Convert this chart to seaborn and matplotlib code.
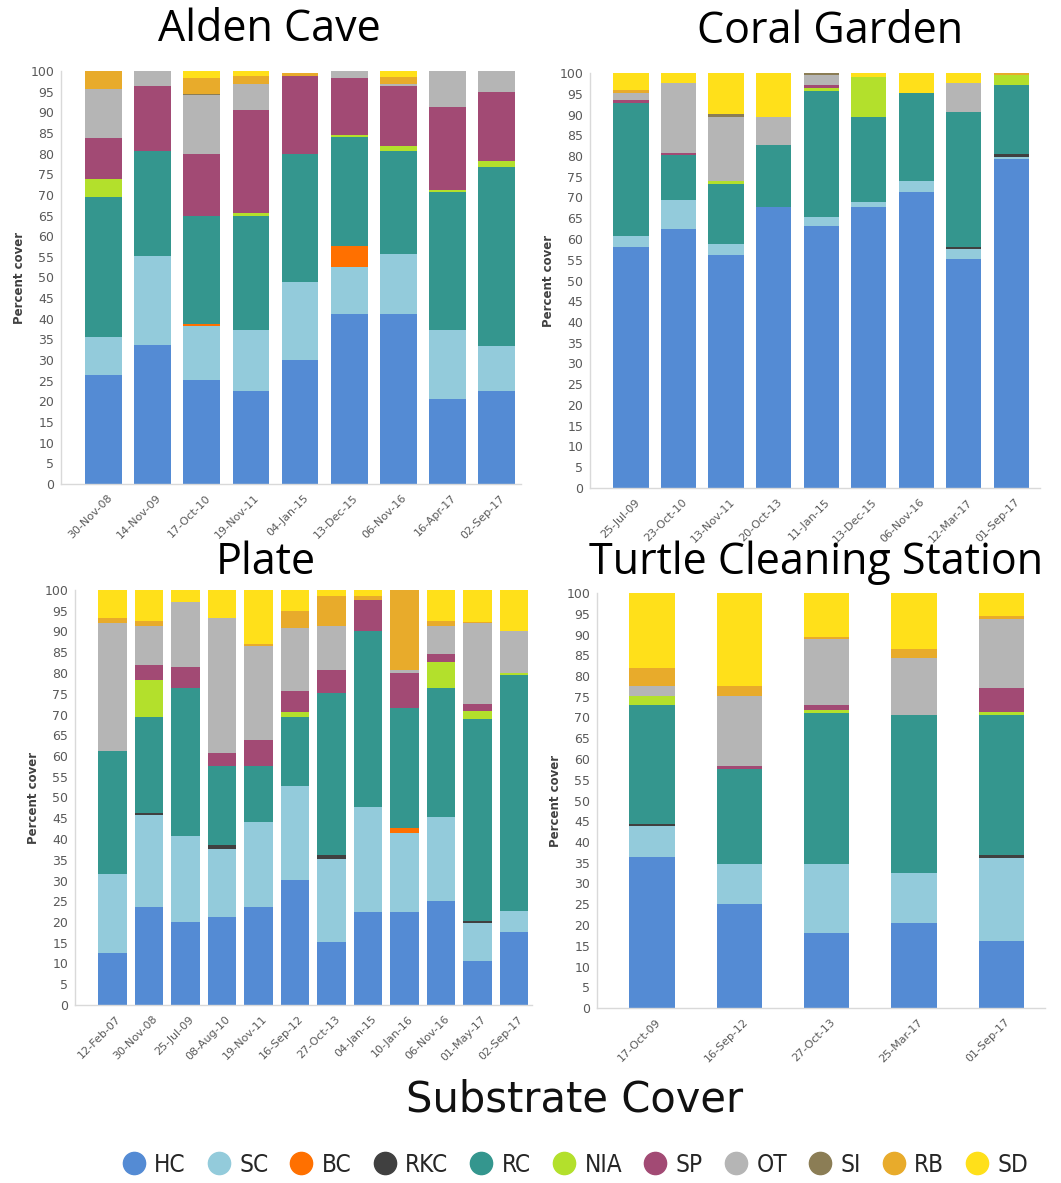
import matplotlib
matplotlib.use("Agg")
import matplotlib.pyplot as plt
import matplotlib.transforms as mtransforms
from matplotlib.lines import Line2D
import numpy as np
import pandas as pd
import seaborn as sns

# Substrate categories (bottom to top of each stacked bar) and their colours
CATEGORIES = ["HC", "SC", "BC", "RKC", "RC", "NIA", "SP", "OT", "SI", "RB", "SD"]
COLORS = ["#548bd4", "#93cbdb", "#ff7000", "#404040", "#34968e", "#b3e02c",
          "#a24a74", "#b5b5b5", "#8b7d55", "#e8ab2b", "#ffe01a"]

# Percent cover per survey date, columns follow CATEGORIES
ALDEN_DATES = ["30-Nov-08", "14-Nov-09", "17-Oct-10", "19-Nov-11", "04-Jan-15",
               "13-Dec-15", "06-Nov-16", "16-Apr-17", "02-Sep-17"]
ALDEN_COVER = [
    [26.3, 9.4, 0.0, 0.0, 33.7, 4.4, 9.9, 11.9, 0.0, 4.4, 0.0],
    [33.7, 21.5, 0.0, 0.0, 25.5, 0.0, 15.7, 3.6, 0.0, 0.0, 0.0],
    [25.1, 13.1, 0.6, 0.0, 26.2, 0.0, 15.0, 14.1, 0.4, 3.7, 1.8],
    [22.5, 14.9, 0.0, 0.0, 27.6, 0.6, 25.0, 6.3, 0.0, 1.9, 1.2],
    [30.1, 18.9, 0.0, 0.0, 31.0, 0.0, 18.8, 0.0, 0.0, 0.6, 0.0],
    [41.2, 11.3, 5.1, 0.0, 26.3, 0.6, 13.7, 1.8, 0.0, 0.0, 0.0],
    [41.2, 14.5, 0.0, 0.0, 25.0, 1.2, 14.5, 0.4, 0.0, 1.8, 1.4],
    [20.5, 16.9, 0.0, 0.0, 33.2, 0.6, 20.1, 8.7, 0.0, 0.0, 0.0],
    [22.5, 10.8, 0.0, 0.0, 43.5, 1.5, 16.6, 5.1, 0.0, 0.0, 0.0],
]

CORAL_DATES = ["25-Jul-09", "23-Oct-10", "13-Nov-11", "20-Oct-13", "11-Jan-15",
               "13-Dec-15", "06-Nov-16", "12-Mar-17", "01-Sep-17"]
CORAL_COVER = [
    [58.1, 2.6, 0.0, 0.0, 32.0, 0.0, 0.7, 1.9, 0.0, 0.5, 4.2],
    [62.5, 7.0, 0.0, 0.0, 10.7, 0.0, 0.6, 16.8, 0.0, 0.0, 2.4],
    [56.2, 2.7, 0.0, 0.0, 14.3, 0.8, 0.0, 15.5, 0.7, 0.0, 9.8],
    [67.7, 0.0, 0.0, 0.0, 14.9, 0.0, 0.0, 6.9, 0.0, 0.0, 10.5],
    [63.1, 2.1, 0.0, 0.0, 30.5, 0.6, 0.8, 2.3, 0.6, 0.0, 0.0],
    [67.7, 1.3, 0.0, 0.0, 20.5, 9.5, 0.0, 0.0, 0.0, 0.0, 1.0],
    [71.4, 2.6, 0.0, 0.0, 21.2, 0.0, 0.0, 0.0, 0.0, 0.0, 4.8],
    [55.1, 2.4, 0.0, 0.6, 32.6, 0.0, 0.0, 6.9, 0.0, 0.0, 2.4],
    [79.2, 0.5, 0.0, 0.9, 16.5, 2.5, 0.0, 0.0, 0.0, 0.4, 0.0],
]

PLATE_DATES = ["12-Feb-07", "30-Nov-08", "25-Jul-09", "08-Aug-10", "19-Nov-11",
               "16-Sep-12", "27-Oct-13", "04-Jan-15", "10-Jan-16", "06-Nov-16",
               "01-May-17", "02-Sep-17"]
PLATE_COVER = [
    [12.6, 18.9, 0.0, 0.0, 29.8, 0.0, 0.0, 30.7, 0.0, 1.3, 6.7],
    [23.7, 22.1, 0.0, 0.5, 23.2, 8.8, 3.6, 9.5, 0.0, 1.1, 7.5],
    [20.1, 20.7, 0.0, 0.0, 35.5, 0.0, 5.1, 15.6, 0.0, 0.0, 3.0],
    [21.3, 16.4, 0.0, 0.9, 19.1, 0.0, 3.1, 32.4, 0.0, 0.0, 6.8],
    [23.7, 20.3, 0.0, 0.0, 13.7, 0.0, 6.1, 22.7, 0.0, 0.4, 13.1],
    [30.1, 22.7, 0.0, 0.0, 16.7, 1.2, 5.0, 15.1, 0.0, 4.2, 5.0],
    [15.1, 20.2, 0.0, 0.9, 38.9, 0.0, 5.6, 10.7, 0.0, 7.2, 1.4],
    [22.5, 25.1, 0.0, 0.0, 42.6, 0.0, 7.4, 0.0, 0.0, 1.0, 1.4],
    [22.5, 18.9, 1.2, 0.0, 28.9, 0.0, 8.6, 0.6, 0.0, 19.3, 0.0],
    [25.1, 20.1, 0.0, 0.0, 31.1, 6.3, 2.0, 6.8, 0.0, 1.2, 7.4],
    [10.7, 9.0, 0.0, 0.5, 48.6, 2.0, 1.7, 19.5, 0.0, 0.4, 7.6],
    [17.7, 5.0, 0.0, 0.0, 56.8, 0.6, 0.0, 10.0, 0.0, 0.0, 9.9],
]

TURTLE_DATES = ["17-Oct-09", "16-Sep-12", "27-Oct-13", "25-Mar-17", "01-Sep-17"]
TURTLE_COVER = [
    [36.3, 7.6, 0.0, 0.5, 28.7, 2.0, 0.0, 2.4, 0.0, 4.4, 18.1],
    [25.0, 9.6, 0.0, 0.0, 23.1, 0.0, 0.6, 16.8, 0.0, 2.4, 22.5],
    [18.0, 16.6, 0.0, 0.0, 36.5, 0.6, 1.4, 15.8, 0.0, 0.6, 10.5],
    [20.6, 12.0, 0.0, 0.0, 38.1, 0.0, 0.0, 13.7, 0.0, 2.0, 13.6],
    [16.2, 20.0, 0.0, 0.6, 33.9, 0.6, 5.7, 16.8, 0.0, 0.7, 5.5],
]

sns.set_style("white")
plt.rcParams["font.family"] = ["DejaVu Sans"]

TITLE_FONT = ["Open Sans", "Lato", "DejaVu Sans"]
TICK_COLOR = "#595959"
SPINE_COLOR = "#d9d9d9"

fig = plt.figure(figsize=(10.61, 11.83), dpi=100)
label_shift = mtransforms.ScaledTranslation(5 / 72, 0, fig.dpi_scale_trans)


def stacked_panel(rect, dates, cover, bar_width, xlim):
    ax = fig.add_axes(rect)
    df = pd.DataFrame(cover, columns=CATEGORIES)
    df.insert(0, "date", dates)
    running = df[CATEGORIES].cumsum(axis=1)
    # draw cumulative totals from the top layer down so each lower layer covers the rest
    for cat, col in reversed(list(zip(CATEGORIES, COLORS))):
        sns.barplot(x=df["date"], y=running[cat], order=dates, color=col,
                    saturation=1, width=bar_width, errorbar=None,
                    linewidth=0, ax=ax)
    ax.set_xlim(*xlim)
    ax.set_ylim(0, 100)
    ax.set_yticks(np.arange(0, 101, 5))
    ax.set_xlabel("")
    ax.set_ylabel("Percent cover", fontsize=8.5, fontweight="bold",
                  color="#404040", labelpad=3)
    for side in ("top", "right"):
        ax.spines[side].set_visible(False)
    for side in ("left", "bottom"):
        ax.spines[side].set_color(SPINE_COLOR)
        ax.spines[side].set_linewidth(1.0)
    ax.tick_params(axis="y", length=0, pad=5, labelsize=9, labelcolor=TICK_COLOR)
    ax.tick_params(axis="x", length=0, pad=9, labelsize=8, labelcolor=TICK_COLOR)
    for lab in ax.get_xticklabels():
        lab.set_rotation(45)
        lab.set_ha("right")
        lab.set_va("center")
        lab.set_rotation_mode("anchor")
        lab.set_transform(lab.get_transform() + label_shift)
    ax.grid(False)
    return ax


W, H = 1061.0, 1183.0


def rect(left, top, right, bottom):
    return [left / W, 1 - bottom / H, (right - left) / W, (bottom - top) / H]


stacked_panel(rect(61, 71, 521, 484), ALDEN_DATES, ALDEN_COVER, 0.75, (-0.87, 8.5))
stacked_panel(rect(590, 73, 1040, 488), CORAL_DATES, CORAL_COVER, 0.74, (-0.86, 8.6))
stacked_panel(rect(75, 590, 532, 1005), PLATE_DATES, PLATE_COVER, 0.78, (-1.03, 11.5))
stacked_panel(rect(597, 593, 1045, 1008), TURTLE_DATES, TURTLE_COVER, 0.52, (-0.63, 4.5))

# panel titles
for text, x, y in [("Alden Cave", 269, 30), ("Coral Garden", 830, 32),
                   ("Plate", 266, 563), ("Turtle Cleaning Station", 816, 563)]:
    fig.text(x / W, 1 - y / H, text, ha="center", va="center",
             fontsize=31, family=TITLE_FONT, color="black")

fig.text(575 / W, 1 - 1100 / H, "Substrate Cover", ha="center", va="center",
         fontsize=30, color="#111111")

handles = [Line2D([0], [0], marker="o", linestyle="", markersize=16,
                  markerfacecolor=c, markeredgecolor=c) for c in COLORS]
fig.legend(handles, CATEGORIES, loc="center", ncol=len(CATEGORIES),
           bbox_to_anchor=(575 / W, 1 - 1165 / H), frameon=False,
           handlelength=1.0, handletextpad=0.35, columnspacing=0.85,
           prop={"family": ["DejaVu Sans"], "stretch": "condensed", "size": 17.5})

fig.savefig("out.png", dpi=100)
